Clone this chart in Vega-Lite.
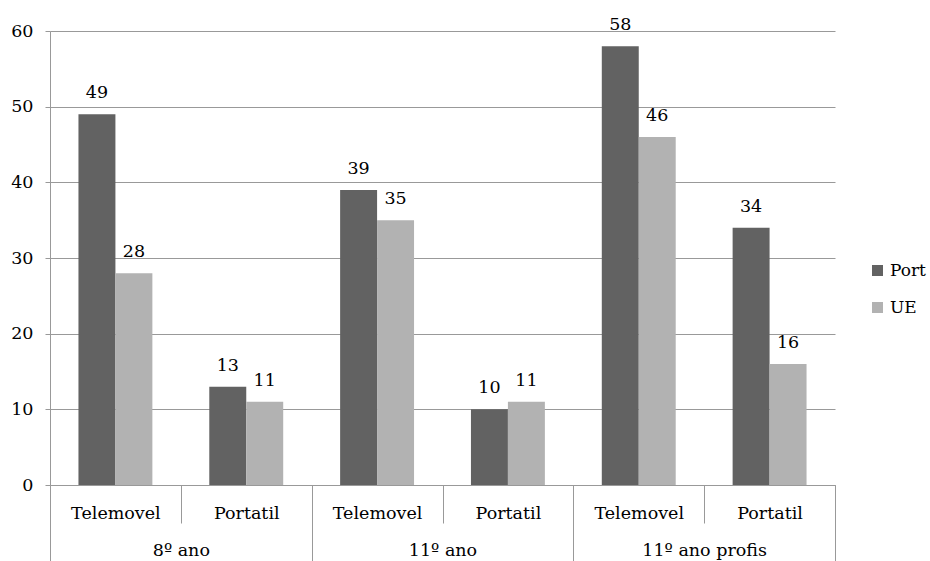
{
  "$schema": "https://vega.github.io/schema/vega-lite/v6.json",
  "width": 785,
  "height": 454,
  "autosize": "none",
  "padding": {"left": 50, "top": 31, "right": 95, "bottom": 76},
  "config": {
    "font": "DejaVu Serif",
    "view": {"stroke": null},
    "axis": {"labelFontSize": 17.5, "labelColor": "#000000", "domainColor": "#999999", "tickColor": "#999999", "gridColor": "#999999"},
    "legend": {"labelFontSize": 17, "labelColor": "#000000"}
  },
  "data": {
    "values": [
      {"group": "8º ano", "cat": "8º ano|Telemovel", "series": "Port", "value": 49},
      {"group": "8º ano", "cat": "8º ano|Telemovel", "series": "UE", "value": 28},
      {"group": "8º ano", "cat": "8º ano|Portatil", "series": "Port", "value": 13},
      {"group": "8º ano", "cat": "8º ano|Portatil", "series": "UE", "value": 11},
      {"group": "11º ano", "cat": "11º ano|Telemovel", "series": "Port", "value": 39},
      {"group": "11º ano", "cat": "11º ano|Telemovel", "series": "UE", "value": 35},
      {"group": "11º ano", "cat": "11º ano|Portatil", "series": "Port", "value": 10},
      {"group": "11º ano", "cat": "11º ano|Portatil", "series": "UE", "value": 11},
      {"group": "11º ano profis", "cat": "11º ano profis|Telemovel", "series": "Port", "value": 58},
      {"group": "11º ano profis", "cat": "11º ano profis|Telemovel", "series": "UE", "value": 46},
      {"group": "11º ano profis", "cat": "11º ano profis|Portatil", "series": "Port", "value": 34},
      {"group": "11º ano profis", "cat": "11º ano profis|Portatil", "series": "UE", "value": 16}
    ]
  },
  "layer": [
    {
      "encoding": {
        "x": {
          "field": "cat", "type": "nominal", "sort": null,
          "scale": {"type": "band", "paddingInner": 0, "paddingOuter": 0},
          "axis": {
            "orient": "bottom", "title": null, "labelAngle": 0,
            "labelExpr": "split(datum.label, '|')[1]",
            "tickBand": "extent", "tickSize": 38, "labelPadding": -5,
            "labelBaseline": "alphabetic", "domain": true, "grid": false
          }
        },
        "xOffset": {"field": "series", "type": "nominal", "scale": {"paddingInner": 0, "paddingOuter": 0.77}},
        "y": {
          "field": "value", "type": "quantitative",
          "scale": {"domain": [0, 60], "nice": false},
          "axis": {"title": null, "values": [0, 10, 20, 30, 40, 50, 60], "grid": true, "tickSize": 5, "labelPadding": 12, "domain": true}
        }
      },
      "layer": [
        {
          "mark": {"type": "bar"},
          "encoding": {
            "color": {
              "field": "series", "type": "nominal",
              "scale": {"domain": ["Port", "UE"], "range": ["#626262", "#b2b2b2"]},
              "legend": {"title": null, "orient": "none", "legendX": 819, "legendY": 231, "symbolType": "square", "symbolSize": 121, "symbolStrokeWidth": 0, "rowPadding": 19, "labelOffset": 4, "padding": 0}
            }
          }
        },
        {
          "mark": {"type": "text", "baseline": "alphabetic", "dy": -16, "fontSize": 17.5, "color": "#000000"},
          "encoding": {"text": {"field": "value", "type": "quantitative"}}
        }
      ]
    },
    {
      "mark": {"type": "bar", "opacity": 0},
      "encoding": {
        "x": {
          "field": "group", "type": "nominal", "sort": null,
          "scale": {"type": "band", "paddingInner": 0, "paddingOuter": 0},
          "axis": {
            "orient": "bottom", "title": null, "labelAngle": 0,
            "tickBand": "extent", "tickSize": 80, "labelPadding": -10,
            "labelBaseline": "alphabetic", "domain": false, "grid": false
          }
        }
      }
    }
  ],
  "resolve": {"scale": {"x": "independent"}, "axis": {"x": "independent"}}
}
